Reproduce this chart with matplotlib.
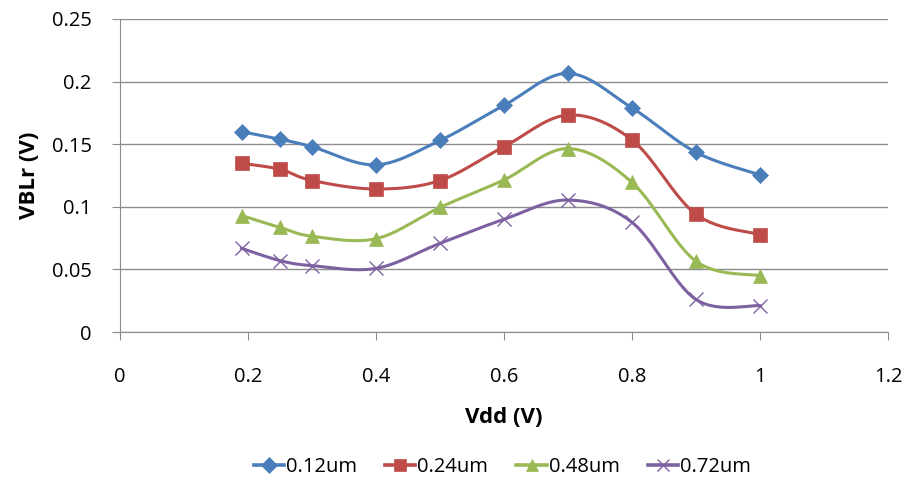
import numpy as np
import matplotlib
matplotlib.use("Agg")
import matplotlib.pyplot as plt

vdd = [0.19, 0.25, 0.3, 0.4, 0.5, 0.6, 0.7, 0.8, 0.9, 1.0]
s012 = [0.160, 0.154, 0.148, 0.1335, 0.153, 0.181, 0.2066, 0.179, 0.1435, 0.1255]
s024 = [0.1347, 0.130, 0.121, 0.1142, 0.121, 0.148, 0.1733, 0.1534, 0.094, 0.0778]
s048 = [0.093, 0.0835, 0.0765, 0.0745, 0.0995, 0.1215, 0.1465, 0.1195, 0.0565, 0.0450]
s072 = [0.0668, 0.057, 0.053, 0.0508, 0.0708, 0.090, 0.1054, 0.0876, 0.026, 0.021]
labels = ["0.12um", "0.24um", "0.48um", "0.72um"]
colors = ["#4A7EBB", "#BE4B48", "#98B954", "#7D60A0"]
markers = ["D", "s", "^", "x"]
msizes = [8.5, 9.5, 9.5, 9.5]
xticks = [0, 0.2, 0.4, 0.6, 0.8, 1.0, 1.2]
xticklabels = ["0", "0.2", "0.4", "0.6", "0.8", "1", "1.2"]
yticks = [0, 0.05, 0.1, 0.15, 0.2, 0.25]
yticklabels = ["0", "0.05", "0.1", "0.15", "0.2", "0.25"]


def smooth(x, y, n=30):
    x = np.asarray(x, float)
    y = np.asarray(y, float)
    px = np.concatenate([[x[0]], x, [x[-1]]])
    py = np.concatenate([[y[0]], y, [y[-1]]])
    outx, outy = [], []
    t = np.linspace(0, 1, n)
    for i in range(1, len(px) - 2):
        p0 = np.array([px[i], py[i]])
        p3 = np.array([px[i + 1], py[i + 1]])
        p1 = p0 + (np.array([px[i + 1], py[i + 1]]) - np.array([px[i - 1], py[i - 1]])) / 6
        p2 = p3 - (np.array([px[i + 2], py[i + 2]]) - np.array([px[i], py[i]])) / 6
        b = ((1 - t) ** 3)[:, None] * p0 + (3 * (1 - t) ** 2 * t)[:, None] * p1 + \
            (3 * (1 - t) * t ** 2)[:, None] * p2 + (t ** 3)[:, None] * p3
        outx.extend(b[:, 0])
        outy.extend(b[:, 1])
    return outx, outy


plt.rcParams['font.family'] = ['Open Sans', 'DejaVu Sans']
fig = plt.figure(figsize=(9.05, 4.82), dpi=100)
ax = fig.add_axes([0.1326, 0.3112, 0.8486, 0.6494])

handles = []
for ys, lab, c, m, ms in zip([s012, s024, s048, s072], labels, colors, markers, msizes):
    sx, sy = smooth(vdd, ys)
    ax.plot(sx, sy, color=c, lw=2.2, zorder=3)
    mew = 1.0 if m == "x" else 0.5
    ax.plot(vdd, ys, linestyle='none', marker=m, color=c, ms=ms, mew=mew, zorder=4)
    h, = ax.plot([], [], color=c, lw=2.6, marker=m, ms=ms - 0.5, mew=mew, label=lab)
    handles.append(h)

ax.set_xlim(0, 1.2)
ax.set_ylim(0, 0.25)
ax.set_xticks(xticks)
ax.set_xticklabels(xticklabels)
ax.set_yticks(yticks)
ax.set_yticklabels(yticklabels)
ax.yaxis.grid(True, color="#8c8c8c", lw=1)
ax.set_axisbelow(True)
for s in ["top", "right"]:
    ax.spines[s].set_visible(False)
for s in ["left", "bottom"]:
    ax.spines[s].set_color("#8c8c8c")
ax.tick_params(axis='both', colors="#8c8c8c", labelcolor="black", labelsize=14.5, length=5.5, direction='out')
ax.tick_params(axis='x', pad=20)
ax.tick_params(axis='y', pad=15)
ax.set_xlabel("Vdd (V)", fontsize=16, fontweight='bold', labelpad=14)
ax.set_ylabel("VBLr (V)", fontsize=16, fontweight='bold', labelpad=8)

fig.legend(handles=handles, loc='center', bbox_to_anchor=(0.555, 0.031), ncol=4, frameon=False,
           fontsize=14.5, handlelength=1.5, handletextpad=0.1, columnspacing=1.4)

fig.savefig("out.png", dpi=100)
